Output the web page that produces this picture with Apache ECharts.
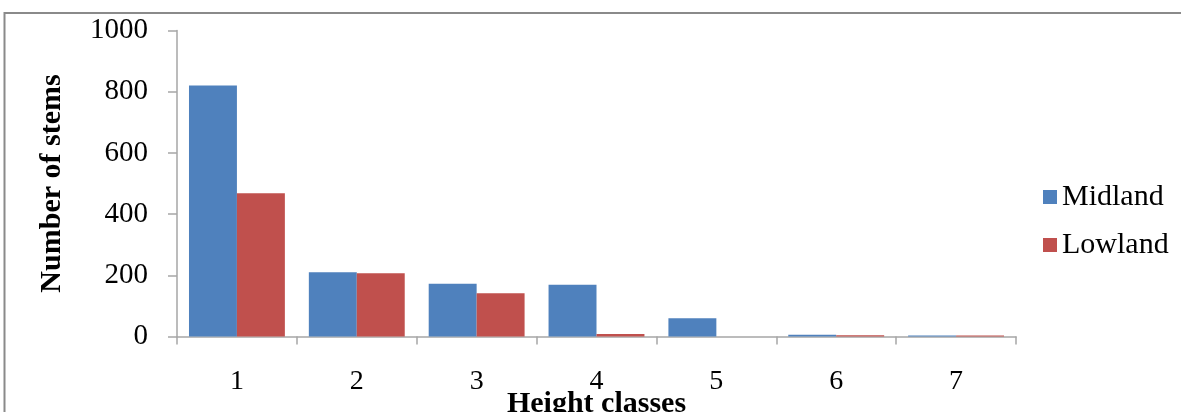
<!DOCTYPE html>
<html>
<head>
<meta charset="utf-8">
<script src="https://cdn.jsdelivr.net/npm/echarts@6/dist/echarts.min.js"></script>
<style>
  html, body { margin: 0; padding: 0; background: #fff; }
  #chart { width: 1181px; height: 412px; }
</style>
</head>
<body>
<div id="chart"></div>
<script>
// Stem counts per height class for the two sites
const heightClasses = ['1', '2', '3', '4', '5', '6', '7'];
const midland = [820, 210, 172, 169, 60, 6, 3];
const lowland = [468, 207, 141, 8, 0, 4, 3];
const yTicks = { min: 0, max: 1000, step: 200 };

const serif = '"Liberation Serif", "Times New Roman", serif';
const axisGray = '#A6A6A6';

const chart = echarts.init(document.getElementById('chart'));
chart.setOption({
  animation: false,
  backgroundColor: '#fff',
  graphic: [{
    type: 'rect',
    shape: { x: 4.5, y: 13, width: 1400, height: 600 },
    style: { fill: 'none', stroke: '#8a8a8a', lineWidth: 2 },
    silent: true
  }],
  grid: {
    left: 177, right: 165, top: 30.5, bottom: 75.5,
    containLabel: false,
    outerBoundsMode: 'none'
  },
  legend: {
    orient: 'vertical',
    left: 1038,
    top: 177,
    icon: 'rect',
    itemWidth: 14,
    itemHeight: 14,
    itemGap: 18,
    textStyle: { fontFamily: serif, fontSize: 30, color: '#000', lineHeight: 30, padding: [0, 0, 0, 0] },
    data: ['Midland', 'Lowland']
  },
  xAxis: {
    type: 'category',
    data: heightClasses,
    name: 'Height classes',
    nameLocation: 'middle',
    nameGap: 53,
    nameMoveOverlap: false,
    nameTextStyle: { fontFamily: serif, fontSize: 30, fontWeight: 'bold', color: '#000', lineHeight: 30 },
    axisLine: { lineStyle: { color: axisGray, width: 1.5 } },
    axisTick: { show: true, length: 8, lineStyle: { color: axisGray, width: 1.5 } },
    axisLabel: { fontFamily: serif, fontSize: 28, color: '#000', margin: 31 }
  },
  yAxis: {
    type: 'value',
    min: yTicks.min,
    max: yTicks.max,
    interval: yTicks.step,
    name: 'Number of stems',
    nameLocation: 'middle',
    nameGap: 110,
    nameMoveOverlap: false,
    nameTextStyle: { fontFamily: serif, fontSize: 30, fontWeight: 'bold', color: '#000' },
    axisLine: { show: true, lineStyle: { color: axisGray, width: 1.5 } },
    axisTick: { show: true, length: 9, lineStyle: { color: axisGray, width: 1.5 } },
    splitLine: { show: false },
    axisLabel: {
      fontFamily: serif, fontSize: 29, color: '#000', margin: 29,
      formatter: (v) => String(v)
    }
  },
  series: [
    {
      name: 'Midland',
      type: 'bar',
      data: midland,
      barGap: '0%',
      barCategoryGap: '20%',
      itemStyle: { color: '#4F81BD' }
    },
    {
      name: 'Lowland',
      type: 'bar',
      data: lowland,
      barGap: '0%',
      barCategoryGap: '20%',
      itemStyle: { color: '#C0504D' }
    }
  ]
});
</script>
</body>
</html>
